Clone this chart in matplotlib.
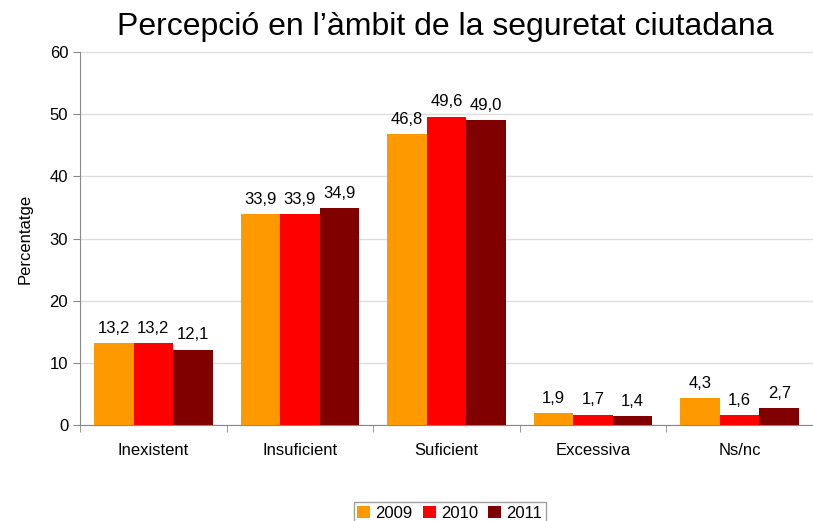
import numpy as np
import matplotlib.pyplot as plt

plt.rcParams['font.family'] = ['Liberation Sans', 'DejaVu Sans']

categories = ['Inexistent', 'Insuficient', 'Suficient', 'Excessiva', 'Ns/nc']
years = ['2009', '2010', '2011']
v2009 = [13.2, 33.9, 46.8, 1.9, 4.3]
v2010 = [13.2, 33.9, 49.6, 1.7, 1.6]
v2011 = [12.1, 34.9, 49.0, 1.4, 2.7]
colors = ['#FF9900', '#FF0000', '#800000']

fig = plt.figure(figsize=(8.13, 5.21), dpi=100)
ax = fig.add_axes([0.0984, 0.184, 0.9016, 0.716])

x = np.arange(len(categories))
w = 0.27
for i, (vals, yr) in enumerate(zip([v2009, v2010, v2011], years)):
    pos = x + (i - 1) * w
    ax.bar(pos, vals, w, color=colors[i], label=yr, zorder=3)
    for p, v in zip(pos, vals):
        ax.text(p, v + 1.2, f'{v:.1f}'.replace('.', ','), ha='center', va='bottom',
                fontsize=12)

ax.set_xlim(-0.5, len(categories) - 0.5)
ax.set_ylim(0, 60)
ax.set_yticks(range(0, 61, 10))
ax.set_xticks(x)
ax.set_xticklabels(categories, fontsize=12)
ax.set_xticks(np.arange(-0.5, len(categories), 1), minor=True)
ax.tick_params(axis='x', which='major', length=0, pad=13)
ax.tick_params(axis='x', which='minor', length=5, color='#888888')
ax.tick_params(axis='y', labelsize=12, length=5, color='#888888')
ax.grid(axis='y', color='#dddddd', linewidth=1, zorder=0)
for s in ['top', 'right']:
    ax.spines[s].set_visible(False)
ax.spines['left'].set_color('#888888')
ax.spines['bottom'].set_color('#888888')
ax.set_ylabel('Percentatge', fontsize=12, labelpad=12)

fig.text(0.548, 0.948, 'Percepció en l’àmbit de la seguretat ciutadana',
         ha='center', va='center', fontsize=23)

fig.legend(loc='upper center', bbox_to_anchor=(0.553, 0.052), ncol=3,
           fontsize=12, frameon=True, fancybox=False, edgecolor='#888888',
           handlelength=0.8, handletextpad=0.3, columnspacing=0.6,
           borderpad=0.2)

fig.savefig('out.png', dpi=100)
